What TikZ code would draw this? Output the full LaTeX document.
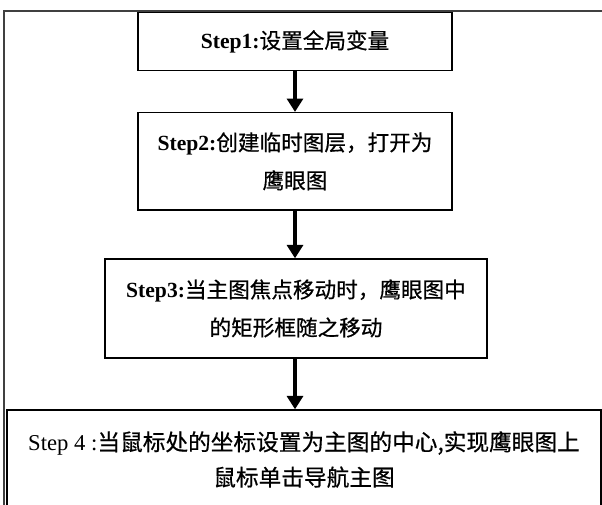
\documentclass[tikz,border=0pt]{standalone}
\usepackage{fontspec}
\setmainfont{Liberation Serif}
\newfontfamily\cjk[FakeBold=0.6]{Noto Sans CJK SC}
\usetikzlibrary{arrows.meta}
\begin{document}
\begin{tikzpicture}[x=0.75pt,y=-0.75pt,
  stepbox/.style={draw=black,line width=1.1pt,fill=white,inner sep=0pt,align=center,
    font=\fontsize{16.2}{28.5}\selectfont},
  flowarrow/.style={line width=2.3pt,-{Triangle[width=12pt,length=10pt]}},
  frame/.style={draw=black!75,line width=0.9pt}]
\clip (0,0) rectangle (602,504);
\fill[white] (0,0) rectangle (602,504);
\draw[frame] (4,11) rectangle (640,540);
\node[stepbox,minimum width=235.5pt,minimum height=43.5pt] (s1) at (295,41.7)
  {\textbf{Step1:}{\cjk 设置全局变量}};
\node[stepbox,minimum width=235.5pt,minimum height=73pt] (s2) at (295,161.3)
  {\textbf{Step2:}{\cjk 创建临时图层，打开为}\\{\cjk 鹰眼图}};
\node[stepbox,minimum width=286.5pt,minimum height=74.25pt] (s3) at (296,308.5)
  {\textbf{Step3:}{\cjk 当主图焦点移动时，鹰眼图中}\\{\cjk 的矩形框随之移动}};
\node[stepbox,minimum width=445.5pt,minimum height=74.25pt,
  font=\fontsize{17}{26.5}\selectfont] (s4) at (304,459.5)
  {Step 4 :{\cjk 当鼠标处的坐标设置为主图的中心,实现鹰眼图上}\\{\cjk 鼠标单击导航主图}};
\draw[flowarrow] (s1) -- (s2);
\draw[flowarrow] (s2) -- (s1.south |- s3.north);
\draw[flowarrow] (s1.south |- s3.south) -- (s1.south |- s4.north);
\end{tikzpicture}
\end{document}
